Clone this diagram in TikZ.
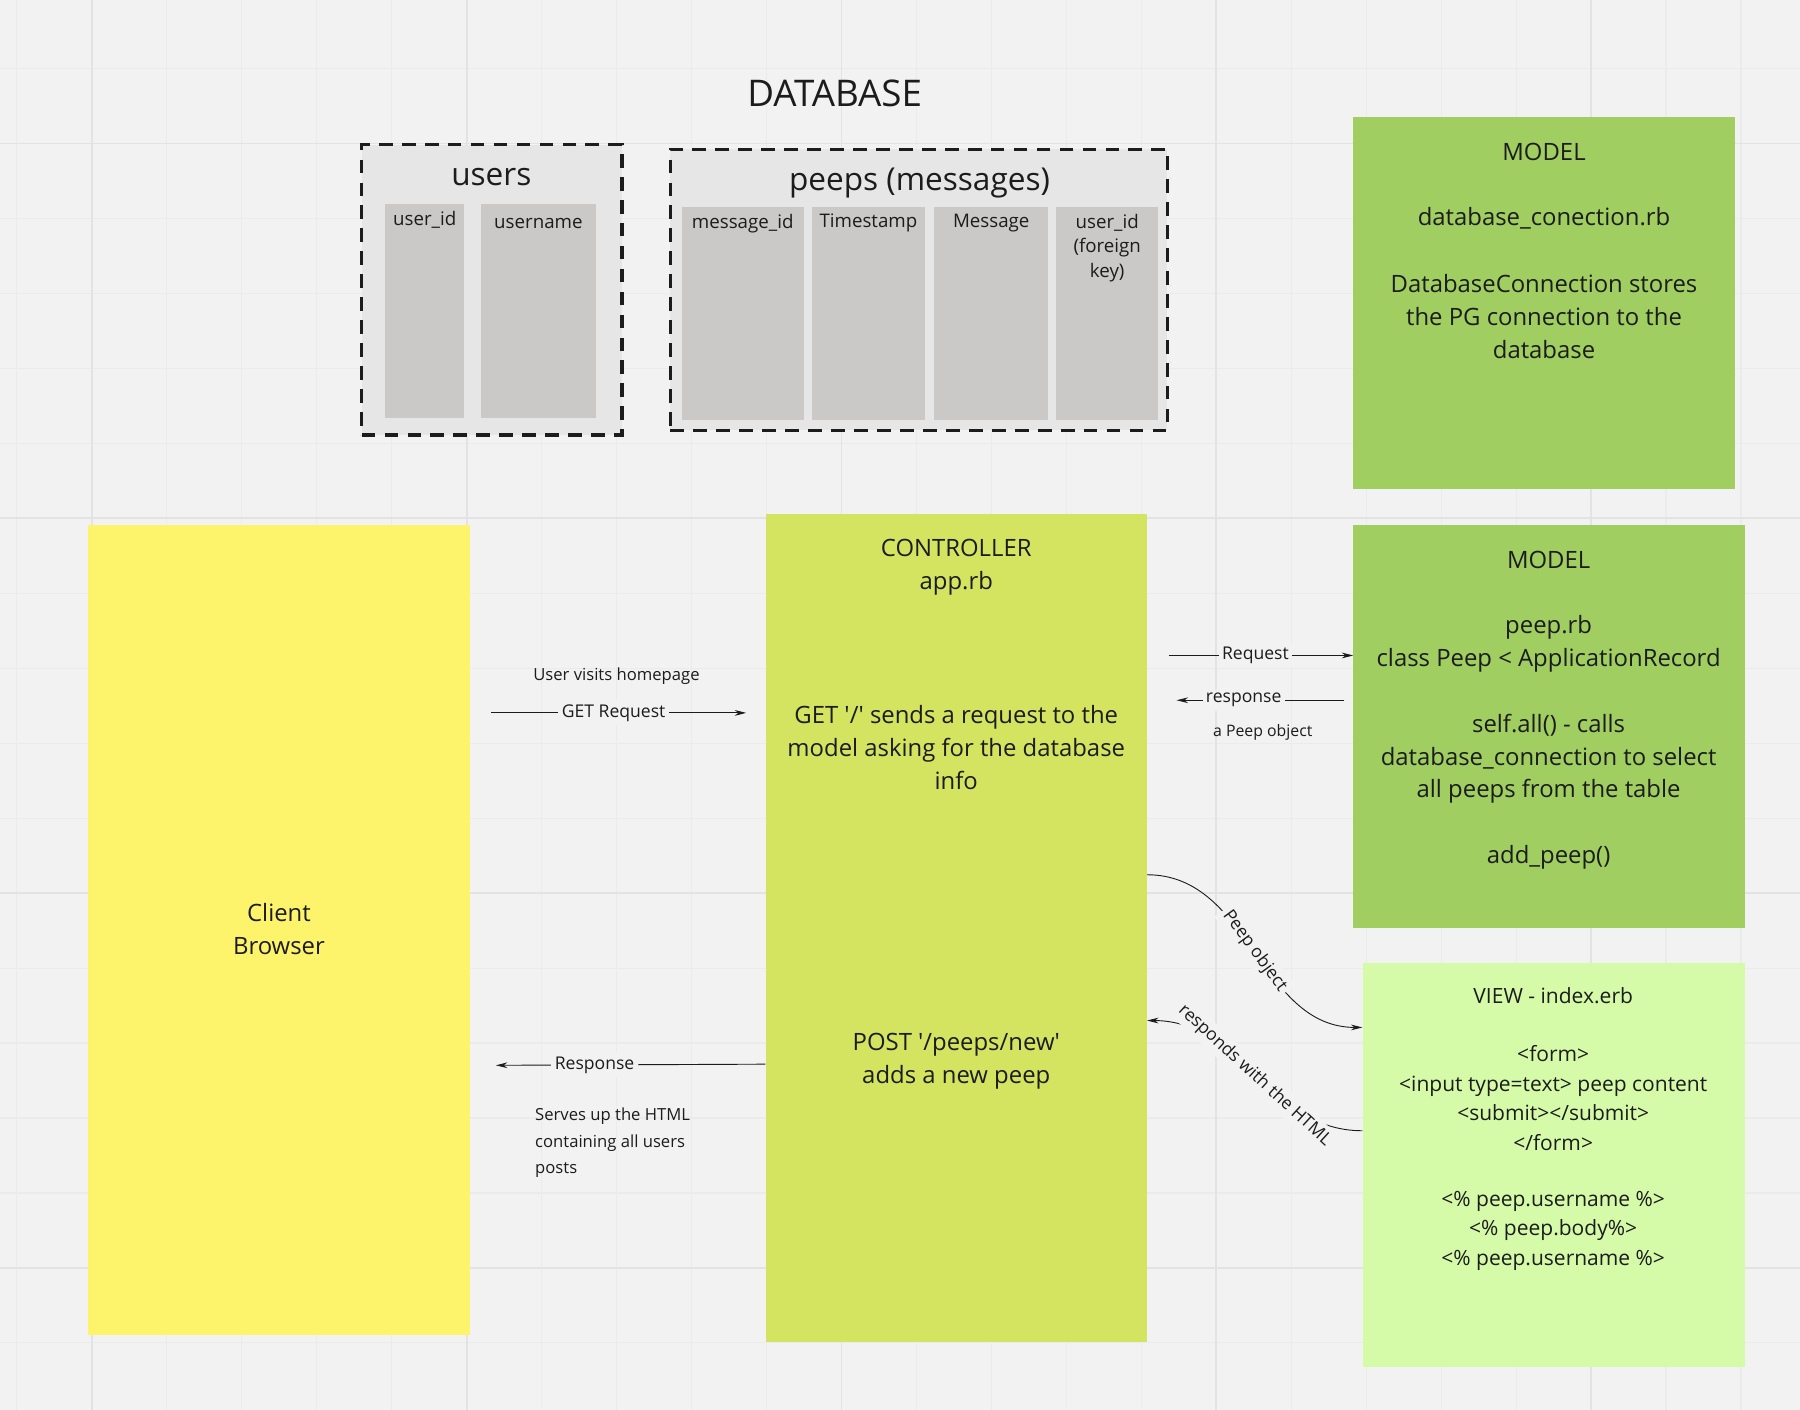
\documentclass[tikz,border=0pt]{standalone}
\usepackage{fontspec}
\setmainfont{Open Sans}
\usetikzlibrary{arrows.meta,calc}
\definecolor{bg}{HTML}{F2F2F2}
\definecolor{gridminor}{HTML}{EBEBEB}
\definecolor{gridmajor}{HTML}{E3E3E3}
\definecolor{ink}{HTML}{1C1C1C}
\definecolor{tablebg}{HTML}{E6E6E6}
\definecolor{colgray}{HTML}{CAC9C7}
\definecolor{modelgreen}{HTML}{A0CE61}
\definecolor{clientyellow}{HTML}{FEF46C}
\definecolor{ctrlgreen}{HTML}{D4E460}
\definecolor{viewgreen}{HTML}{D5FBA9}
\newcommand\sq{\textquotesingle}
\begin{document}
\begin{tikzpicture}[x=1pt,y=-1pt,
  sticky/.style={rectangle, draw=none, inner sep=0pt},
  tablebox/.style={rectangle, fill=tablebg, draw=ink, line width=3pt, dash pattern=on 12pt off 8pt, inner sep=0pt},
  colbox/.style={rectangle, fill=colgray, draw=none, inner sep=0pt, minimum height=186pt},
  txt/.style={text=ink, align=center, inner sep=0pt},
  fbig/.style={font=\fontsize{20.8}{28.6}\selectfont},
  fview/.style={font=\fontsize{18.3}{25.6}\selectfont},
  fhead/.style={font=\fontsize{27.5}{31}\selectfont},
  fcol/.style={font=\fontsize{16.3}{21.5}\selectfont},
  fsmall/.style={font=\fontsize{14.5}{23}\selectfont},
  lbl/.style={fill=bg, text=ink, inner sep=3pt, font=\fontsize{15.3}{18}\selectfont},
  arr/.style={draw=ink, line width=0.8pt, -{Stealth[length=10pt,width=5pt]}}
]
\useasboundingbox (0,0) rectangle (1568,1228);
\fill[bg] (0,0) rectangle (1568,1228);
\begin{scope}
\clip (0,0) rectangle (1568,1228);
\foreach \i in {0,...,24} {
  \draw[gridminor, line width=1pt] ({14.7+65.3*\i},0) -- ({14.7+65.3*\i},1228);
}
\foreach \i in {0,...,19} {
  \draw[gridminor, line width=1pt] (0,{59.7+65.3*\i}) -- (1568,{59.7+65.3*\i});
}
\foreach \i in {0,...,4} {
  \draw[gridmajor, line width=1.6pt] ({80+326.5*\i},0) -- ({80+326.5*\i},1228);
}
\foreach \i in {0,...,3} {
  \draw[gridmajor, line width=1.6pt] (0,{125+326.5*\i}) -- (1568,{125+326.5*\i});
}
\end{scope}

% ---------- DATABASE ----------
\node[txt, font=\fontsize{32}{38}\selectfont] (dbtitle) at (727,81) {DATABASE};

\node[tablebox, minimum width=227pt, minimum height=253pt] (users) at (428.5,252.5) {};
\node[txt, fhead] (userstitle) at (428,154) {users};
\node[colbox, minimum width=69pt] (ucol1) at (369.5,271) {};
\node[colbox, minimum width=100pt] (ucol2) at (469,271) {};
\node[txt, fcol] (ucol1t) at (370,191.5) {user\_id};
\node[txt, fcol] (ucol2t) at (469,194.5) {username};

\node[tablebox, minimum width=433pt, minimum height=245pt] (peeps) at (800.5,252.5) {};
\node[txt, fhead] (peepstitle) at (801,159) {peeps (messages)};
\node[colbox, minimum width=106pt] (pcol1) at (647,273) {};
\node[colbox, minimum width=99pt] (pcol2) at (756.5,273) {};
\node[colbox, minimum width=99pt] (pcol3) at (863.5,273) {};
\node[colbox, minimum width=89pt] (pcol4) at (964.5,273) {};
\node[txt, fcol] (pcol1t) at (647,194.5) {message\_id};
\node[txt, fcol] (pcol2t) at (756.5,194.5) {Timestamp};
\node[txt, fcol] (pcol3t) at (863.5,194.5) {Message};
\node[txt, fcol] (pcol4t) at (964.5,216) {user\_id\\(foreign\\key)};

% ---------- MODEL 1 ----------
\node[sticky, fill=modelgreen, minimum width=332pt, minimum height=324pt] (model1) at (1345,264) {};
\node[txt, fbig] (m1a) at (1345,132) {MODEL};
\node[txt, fbig] (m1b) at (1345,190) {database\_conection.rb};
\node[txt, fbig] (m1c) at (1345,276) {DatabaseConnection stores\\the PG connection to the\\database};

% ---------- CLIENT ----------
\node[sticky, fill=clientyellow, minimum width=332pt, minimum height=706pt] (client) at (243,810) {};
\node[txt, fbig] (clientt) at (243,809.5) {Client\\Browser};

% ---------- CONTROLLER ----------
\node[sticky, fill=ctrlgreen, minimum width=332pt, minimum height=721pt] (ctrl) at (833,808.5) {};
\node[txt, fbig] (ctrla) at (833,494) {CONTROLLER\\app.rb};
\node[txt, fbig] (ctrlb) at (833,651) {GET \sq/\sq{} sends a request to the\\model asking for the database\\info};
\node[txt, fbig] (ctrlc) at (833,924.5) {POST \sq/peeps/new\sq\\adds a new peep};

% ---------- MODEL 2 ----------
\node[sticky, fill=modelgreen, minimum width=341pt, minimum height=351pt] (model2) at (1349.5,632.5) {};
\node[txt, fbig] (m2a) at (1349,488) {MODEL};
\node[txt, fbig] (m2b) at (1349,561) {peep.rb\\class Peep < ApplicationRecord};
\node[txt, fbig] (m2c) at (1349,661) {self.all() - calls\\database\_connection to select\\all peeps from the table};
\node[txt, fbig] (m2d) at (1349,747) {add\_peep()};

% ---------- VIEW ----------
\node[sticky, fill=viewgreen, minimum width=333pt, minimum height=352pt] (view) at (1353.5,1015) {};
\node[txt, fview] (va) at (1353,867) {VIEW - index.erb};
\node[txt, fview] (vb) at (1353,956.5) {<form>\\<input type=text> peep content\\<submit></submit>\\</form>};
\node[txt, fview] (vc) at (1353,1072) {<\% peep.username \%>\\<\% peep.body\%>\\<\% peep.username \%>};

% ---------- CONNECTORS ----------
\node[txt, fsmall] (visits) at (537,589) {User visits homepage};
\coordinate (getA) at (428,621);
\coordinate (getB) at (650,621);
\draw[arr] (getA) -- node[lbl, pos=0.48] (getlbl) {GET Request} (getB);

\coordinate (respA) at (432,928);
\draw[arr] (ctrl.west |- 0,927) -- node[lbl, pos=0.634] (resplbl) {Response} (respA);
\node[txt, fsmall, align=left, anchor=west] (serves) at (466,995.5) {Serves up the HTML\\containing all users\\posts};

\coordinate (reqA) at (1018,571);
\draw[arr] (reqA) -- node[lbl, pos=0.47] (reqlbl) {Request} (model2.west |- 0,571);
\coordinate (rspA) at (1171,610);
\coordinate (rspB) at (1025,610);
\draw[arr] (rspA) -- node[lbl, pos=0.6] (rsplbl) {response} (rspB);
\node[txt, font=\fontsize{13.8}{16}\selectfont] (peepobj) at (1100,638) {a Peep object};

\draw[arr] (ctrl.east |- 0,762) to[out=0,in=180] node[lbl, sloped, midway] (pol) {Peep object} (view.west |- 0,895);
\draw[arr] (view.west |- 0,985) to[out=180,in=0] node[lbl, sloped, midway] (rwl) {responds with the HTML} (ctrl.east |- 0,889);
\end{tikzpicture}
\end{document}
